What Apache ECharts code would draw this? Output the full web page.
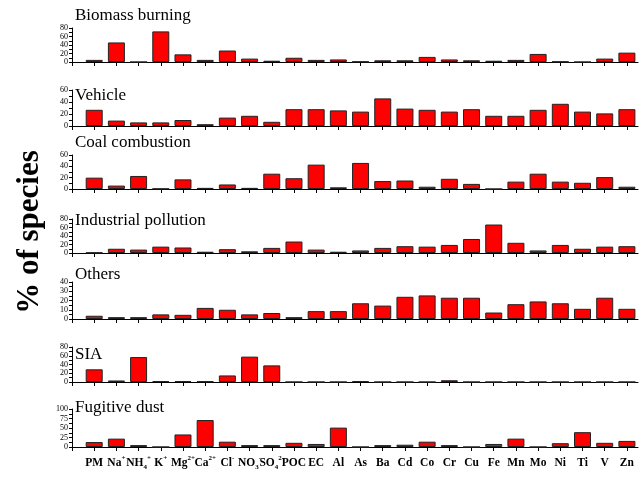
<!DOCTYPE html>
<html>
<head>
<meta charset="utf-8">
<script src="https://cdn.jsdelivr.net/npm/echarts@6/dist/echarts.min.js"></script>
<style>
  html, body { margin: 0; padding: 0; background: #fff; }
  #chart { width: 643px; height: 477px; }
</style>
</head>
<body>
<div id="chart"></div>
<script>
// Species measured in each source profile (rich-text markup for charges and subscripts)
const categories = ['PM', 'Na{sup|+}', 'NH{sub|4}{sup|+}', 'K{sup|+}', 'Mg{sup|2+}', 'Ca{sup|2+}', 'Cl{sup|-}',
  'NO{sub|3}{sup|-}', 'SO{sub|4}{sup|2-}', 'POC', 'EC', 'Al',
  'As', 'Ba', 'Cd', 'Co', 'Cr', 'Cu', 'Fe', 'Mn', 'Mo', 'Ni', 'Ti', 'V', 'Zn'];

// Source names, one panel each
const sourceNames = ['Biomass burning', 'Vehicle', 'Coal combustion', 'Industrial pollution', 'Others', 'SIA', 'Fugitive dust'];

// % of species explained by each source
const biomassBurning = [5, 46, 0, 72, 18, 5, 27, 8, 3, 10, 5, 6, 1, 4, 4, 12, 6, 4, 3, 5, 19, 1, 0, 8, 22];
const vehicle = [27, 9, 6, 6, 10, 3, 14, 17, 7, 28, 28, 26, 24, 46, 29, 27, 24, 28, 17, 17, 27, 37, 24, 21, 28];
const coalCombustion = [20, 6, 23, 0.5, 17, 2, 8, 2, 27, 19, 43, 3, 46, 14, 15, 4, 18, 9, 0, 13, 27, 13, 11, 21, 4];
const industrialPollution = [1, 10, 8, 15, 13, 3, 9, 4, 12, 27, 8, 3, 6, 12, 16, 15, 19, 33, 67, 24, 6, 19, 10, 15, 16];
const others = [3.5, 2, 2, 5, 4.5, 12, 10, 5, 6.5, 2, 8.5, 8.5, 17, 14.5, 24, 25.5, 23, 23, 7, 16, 19, 17, 11, 23, 11];
const sia = [29, 3.5, 57, 2, 2, 1.5, 15, 58, 38, 0, 0, 0, 2, 0, 0, 0, 4, 0, 0, 0, 0, 0, 0, 0, 0];
const fugitiveDust = [13, 22, 5, 0, 33, 71, 14, 5, 5, 11, 8, 51, 0, 5, 6, 14, 5, 0, 8, 22, 0, 10, 39, 11, 16];

const profiles = [biomassBurning, vehicle, coalCombustion, industrialPollution, others, sia, fugitiveDust];

// Value-axis range and label values per panel
const yMax = [80, 60, 60, 80, 40, 80, 100];
const yStep = [20, 20, 20, 20, 10, 20, 25];
const yLabels = [
  [0, 20, 40, 60, 80],
  [0, 20, 40, 60],
  [0, 20, 40, 60],
  [0, 20, 40, 60, 80],
  [0, 10, 20, 30, 40],
  [0, 20, 40, 60, 80],
  [0, 25, 50, 75, 100]
];

// Panel frames: top of value axis and baseline, in px
const panelTop = [28, 90, 155, 219, 282, 347, 409];
const panelBottom = [62, 126, 189, 253, 319, 382, 447];

const serif = '"Liberation Serif", "DejaVu Serif", serif';
const tickPositions = Array.from({ length: 26 }, (_, i) => i);
const labelPositions = Array.from({ length: 25 }, (_, i) => i + 1);

const grids = [], xAxes = [], yAxes = [], series = [], graphics = [];

profiles.forEach((values, p) => {
  grids.push({
    left: 72,
    width: 566,
    top: panelTop[p],
    height: panelBottom[p] - panelTop[p]
  });
  const last = p === profiles.length - 1;
  xAxes.push({
    type: 'value',
    gridIndex: p,
    min: 0,
    max: 25.5,
    interval: 1,
    axisLine: { show: true, lineStyle: { color: '#000', width: 1 } },
    axisTick: { show: true, customValues: tickPositions, length: 4, inside: false, lineStyle: { color: '#000' } },
    axisLabel: {
      show: last,
      customValues: labelPositions,
      formatter: v => categories[Math.round(v) - 1] || '',
      fontFamily: serif,
      fontWeight: 'bold',
      fontSize: 11.5,
      lineHeight: 16,
      color: '#000',
      margin: 8,
      rich: {
        sup: { fontFamily: serif, fontWeight: 'bold', fontSize: 7, lineHeight: 8, verticalAlign: 'top', color: '#000' },
        sub: { fontFamily: serif, fontWeight: 'bold', fontSize: 7, lineHeight: 8, verticalAlign: 'bottom', color: '#000' }
      }
    },
    splitLine: { show: false }
  });
  yAxes.push({
    type: 'value',
    gridIndex: p,
    min: 0,
    max: yMax[p],
    interval: yStep[p],
    axisLine: { show: true, lineStyle: { color: '#000', width: 1 } },
    axisTick: { show: true, length: 3, lineStyle: { color: '#000' } },
    minorTick: { show: true, splitNumber: 2, length: 3, lineStyle: { color: '#000' } },
    axisLabel: {
      customValues: yLabels[p],
      fontFamily: serif, fontSize: 8, lineHeight: 8, color: '#000', margin: 4,
      showMinLabel: true, showMaxLabel: true, hideOverlap: false
    },
    splitLine: { show: false }
  });
  series.push({
    type: 'bar',
    xAxisIndex: p,
    yAxisIndex: p,
    barWidth: 17,
    data: values.map((v, i) => [i + 1, v]),
    itemStyle: { color: '#ff0000', borderColor: '#222', borderWidth: 1 },
    animation: false
  });
});

const titleCenters = [17, 97, 144, 222, 276, 356, 409];
sourceNames.forEach((name, p) => {
  graphics.push({
    type: 'text',
    left: 75,
    top: titleCenters[p] - 10,
    style: { text: name, font: '17px ' + serif, fill: '#000' }
  });
});

// Shared value-axis caption
graphics.push({
  type: 'text',
  x: 30,
  y: 232,
  rotation: Math.PI / 2,
  style: { text: '% of species', font: 'bold 31px ' + serif, fill: '#000', align: 'center', verticalAlign: 'middle' }
});

const chart = echarts.init(document.getElementById('chart'), null, { renderer: 'canvas' });
chart.setOption({
  animation: false,
  grid: grids,
  xAxis: xAxes,
  yAxis: yAxes,
  series: series,
  graphic: graphics
});
</script>
</body>
</html>
